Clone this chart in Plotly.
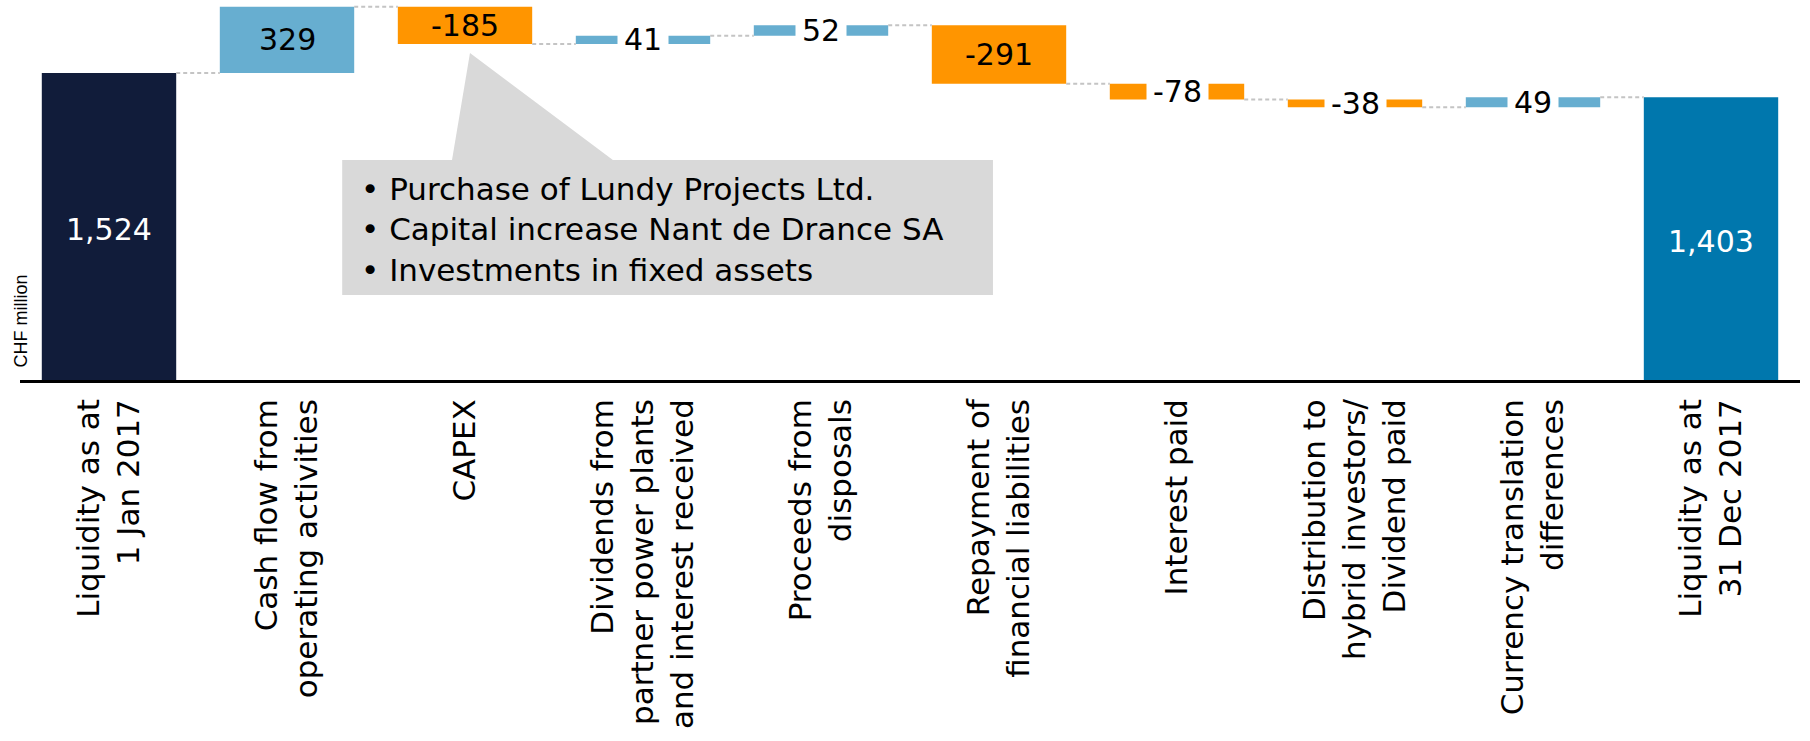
import plotly.graph_objects as go

# ---------------- data ----------------
categories = [
    "Liquidity as at<br>1 Jan 2017",
    "Cash flow from<br>operating activities",
    "CAPEX",
    "Dividends from<br>partner power plants<br>and interest received",
    "Proceeds from<br>disposals",
    "Repayment of<br>financial liabilities",
    "Interest paid",
    "Distribution to<br>hybrid investors/<br>Dividend paid",
    "Currency translation<br>differences",
    "Liquidity as at<br>31 Dec 2017",
]
values = [1524, 329, -185, 41, 52, -291, -78, -38, 49, 1403]
measures = ["absolute", "relative", "relative", "relative", "relative",
            "relative", "relative", "relative", "relative", "total"]
value_labels = ["1,524", "329", "-185", "41", "52", "-291", "-78", "-38", "49", "1,403"]
callout_lines = [
    "Purchase of Lundy Projects Ltd.",
    "Capital increase Nant de Drance SA",
    "Investments in fixed assets",
]
y_title = "CHF million"

# ---------------- styles ----------------
C_START = "#111C3A"
C_END = "#0077AD"
C_POS = "#67AED0"
C_NEG = "#FF9500"
C_CONN = "#C4C4C4"
C_CALLOUT = "#D9D9D9"
FONT = "DejaVu Sans"
BAR_W = 0.755

# ---------------- waterfall geometry from data ----------------
bases, heights, colors, levels = [], [], [], []
running = 0
for i, (v, m) in enumerate(zip(values, measures)):
    if m == "absolute":
        bases.append(0); heights.append(v); running = v
        colors.append(C_START)
    elif m == "total":
        bases.append(0); heights.append(running)
        colors.append(C_END)
    else:
        bases.append(running); heights.append(v); running += v
        colors.append(C_POS if v >= 0 else C_NEG)
    levels.append(running)

xs = list(range(len(categories)))

fig = go.Figure()
fig.add_trace(go.Bar(
    x=xs, y=heights, base=bases, width=BAR_W,
    marker=dict(color=colors, line=dict(width=0)),
    hoverinfo="skip",
))

# connectors
cx, cy = [], []
for i in range(len(xs) - 1):
    cx += [xs[i] + BAR_W / 2, xs[i + 1] - BAR_W / 2, None]
    cy += [levels[i], levels[i], None]
fig.add_trace(go.Scatter(
    x=cx, y=cy, mode="lines",
    line=dict(color=C_CONN, width=2, dash="4px,3px"),
    hoverinfo="skip",
))

annotations = []
for i, lab in enumerate(value_labels):
    mid = bases[i] + heights[i] / 2
    small = abs(heights[i]) < 120
    is_total = measures[i] != "relative"
    annotations.append(dict(
        x=xs[i], y=mid, xref="x", yref="y", text=lab, showarrow=False,
        font=dict(family=FONT, size=30, color="white" if is_total else "black"),
        bgcolor="white" if small else "rgba(0,0,0,0)",
        borderpad=6 if small else 0,
        xanchor="center", yanchor="middle",
        yshift=-3 if is_total else 0,
    ))

# y title
annotations.append(dict(
    x=0, y=0, xref="paper", yref="paper", text=y_title, showarrow=False,
    textangle=-90, font=dict(family="Liberation Sans", size=18, color="black"),
    xanchor="center", yanchor="bottom", yshift=10, xshift=0,
))

# callout (anchored to the CAPEX bar, in data units)
cap_i = 2
box_x0, box_x1 = cap_i - 0.69, cap_i + 2.966
box_y0, box_y1 = 422, 1092
shapes = [
    dict(type="rect", xref="x", yref="y", x0=box_x0, x1=box_x1, y0=box_y0, y1=box_y1,
         fillcolor=C_CALLOUT, line=dict(width=0), layer="below"),
    dict(type="path", xref="x", yref="y",
         path=f"M {cap_i + 0.028} 1623 L {cap_i - 0.073} {box_y1} L {cap_i + 0.831} {box_y1} Z",
         fillcolor=C_CALLOUT, line=dict(width=0), layer="below"),
]
annotations.append(dict(
    x=box_x0 + 0.095, y=(box_y0 + box_y1) / 2, xref="x", yref="y",
    text="<br>".join("• " + s for s in callout_lines), showarrow=False,
    align="left", xanchor="left", yanchor="middle", yshift=-2,
    font=dict(family=FONT, size=31, color="black"),
))

fig.update_layout(
    width=1810, height=741,
    margin=dict(l=20, r=10, t=0, b=361),
    paper_bgcolor="white", plot_bgcolor="white",
    showlegend=False,
    annotations=annotations,
    shapes=shapes,
    xaxis=dict(
        range=[-0.5, len(xs) - 0.5],
        tickmode="array", tickvals=xs, ticktext=categories,
        tickangle=-90, tickfont=dict(family=FONT, size=31, color="black"),
        showline=True, linecolor="black", linewidth=2.5,
        showgrid=False, zeroline=False, ticks="",
        ticklabelstandoff=4,
        fixedrange=True,
    ),
    yaxis=dict(range=[0, 1886], visible=False, fixedrange=True),
)

fig.write_html(
    "out.html",
    config={"displayModeBar": False},
    post_script="document.body.style.margin='0';document.body.style.overflow='hidden';",
)
